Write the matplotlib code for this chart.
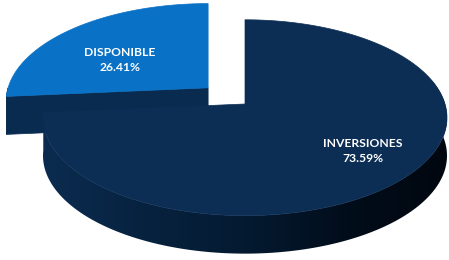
import numpy as np
import matplotlib.pyplot as plt
from matplotlib.patches import Polygon
from matplotlib.colors import LinearSegmentedColormap

# data
labels = ['INVERSIONES', 'DISPONIBLE']
values = [73.59, 26.41]
colors_top = ['#0c2e54', '#0a72c6']
explode = [0.0, 0.25]

# fake 3d pie geometry (pixel space)
CX, CY = 245, 104
RX, RY = 200, 96
K = 0.14      # perspective
DEPTH = 38


def proj(cx, cy, t_deg, r=1.0):
    t = np.radians(t_deg)
    s = np.sin(t) * r
    d = 1 + K * s
    return cx + RX * r * np.cos(t) / d, cy - RY * s / d


fig = plt.figure(figsize=(4.49, 2.60), dpi=100)
ax = fig.add_axes([0, 0, 1, 1])
ax.set_xlim(0, 449)
ax.set_ylim(260, 0)
ax.axis('off')

# slice angles: start at top, disponible counter-clockwise
total = sum(values)
span_d = values[1] / total * 360
slices = {
    1: (90, 90 + span_d),
    0: (90 + span_d, 450),
}

centers = {}
for i, (a0, a1) in slices.items():
    mid = (a0 + a1) / 2
    dx = explode[i] * RX * np.cos(np.radians(mid))
    dy = -explode[i] * RY * np.sin(np.radians(mid))
    centers[i] = (CX + dx, CY + dy)


def top_poly(i):
    a0, a1 = slices[i]
    cx, cy = centers[i]
    ts = np.linspace(a0, a1, 300)
    xs, ys = proj(cx, cy, ts)
    return np.vstack([[cx, cy], np.column_stack([xs, ys])])


# exploded slice: cut wall facing viewer
cx, cy = centers[1]
a1 = slices[1][1]
ex, ey = proj(cx, cy, a1)
wall = [(cx, cy), (ex, ey), (ex, ey + DEPTH), (cx, cy + DEPTH)]
ax.add_patch(Polygon(wall, closed=True, fc='#0a2b50', ec='#0a2b50', lw=0.5))
ts = np.linspace(180, a1, 10)
xs, ys = proj(cx, cy, ts)
arc = np.vstack([np.column_stack([xs, ys]), np.column_stack([xs[::-1], ys[::-1] + DEPTH])])
ax.add_patch(Polygon(arc, closed=True, fc='#0a2b50', ec='#0a2b50', lw=0.5))
ax.add_patch(Polygon(top_poly(1), closed=True, fc=colors_top[1], ec=colors_top[1], lw=0.5))

# main slice side wall, gradient clipped to the wall shape
cx, cy = centers[0]
ts = np.linspace(slices[0][0], 375, 300)
xs, ys = proj(cx, cy, ts)
side = np.vstack([np.column_stack([xs, ys]), np.column_stack([xs[::-1], ys[::-1] + DEPTH])])
side_patch = Polygon(side, closed=True, fc='none', ec='none')
ax.add_patch(side_patch)
cmap = LinearSegmentedColormap.from_list('side', ['#0b2c50', '#07223f', '#041a31', '#020d1b', '#01070f'])
grad = np.linspace(0, 1, 256).reshape(1, -1)
im = ax.imshow(grad, cmap=cmap, extent=(xs.min(), xs.max(), ys.max() + DEPTH, ys.min()),
               aspect='auto', zorder=1)
im.set_clip_path(side_patch)

top_main = Polygon(top_poly(0), closed=True, fc=colors_top[0], ec=colors_top[0], lw=0.5, zorder=2)
ax.add_patch(top_main)
ax.set_xlim(0, 449)
ax.set_ylim(260, 0)

# labels
lab_pos = {0: (0.8, 0.68), 1: (0.6, 0.45)}
for i, (a0, a1) in slices.items():
    mid = (a0 + a1) / 2
    cx, cy = centers[i]
    rx_f, ry_f = lab_pos[i]
    t = np.radians(mid)
    lx = cx + RX * rx_f * np.cos(t)
    ly = cy - RY * ry_f * np.sin(t) / (1 + K * ry_f * np.sin(t))
    ax.text(lx, ly, f'{labels[i]}\n{values[i]:.2f}%', color='white', fontsize=8.7,
            fontweight='bold', ha='center', va='center', linespacing=1.4,
            family='Lato', zorder=3)

fig.savefig('out.png', dpi=100)
